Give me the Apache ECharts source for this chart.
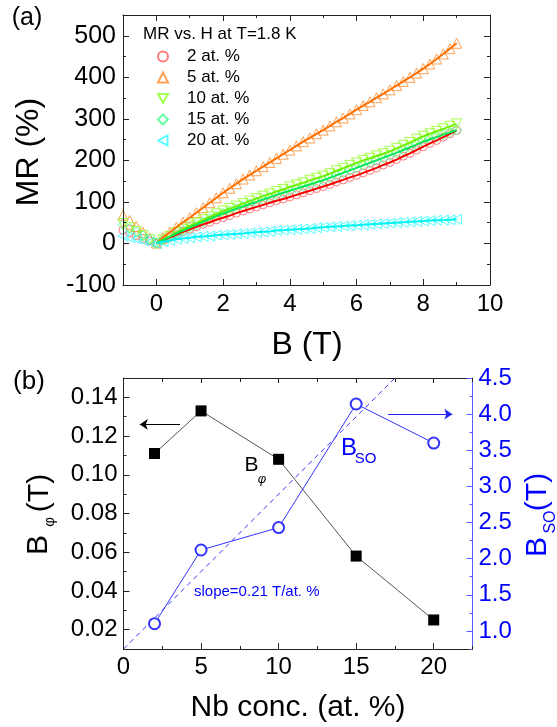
<!DOCTYPE html>
<html><head><meta charset="utf-8">
<script src="https://cdn.jsdelivr.net/npm/echarts@6/dist/echarts.min.js"></script>
<style>html,body{margin:0;padding:0;background:#fff}#c{width:557px;height:727px}</style>
</head><body><div id="c"></div>
<script>
// ---------- Panel (a): MR vs B ----------
const fieldB = [-1.0,-0.8,-0.6,-0.4,-0.2,0.0,0.2,0.4,0.6,0.8,1.0,1.2,1.4,1.6,1.8,2.0,2.2,2.4,2.6,2.8,3.0,3.2,3.4,3.6,3.8,4.0,4.2,4.4,4.6,4.8,5.0,5.2,5.4,5.6,5.8,6.0,6.2,6.4,6.6,6.8,7.0,7.2,7.4,7.6,7.8,8.0,8.2,8.4,8.6,8.8,9.0];
const mr2  = [32,25,19,12,6,0, 7,14,21,28,34, 40,46,51,57,62, 67,73,78,83,88, 93,98,103,107,112, 117,122,127,132,137, 142,148,153,159,164, 170,176,182,189,195, 202,210,217,225,233, 241,248,256,264,272];
const mr5  = [68,55,41,27,13,1, 14,27,39,51,62, 74,86,98,110,122, 133,144,155,165,175, 185,195,205,215,225, 235,245,254,264,273, 283,293,302,312,322, 332,341,351,360,370, 380,390,400,410,421, 432,444,456,469,482];
const mr10 = [48,38,29,19,9,0, 9,17,26,34,42, 49,57,64,71,78, 84,90,96,102,108, 114,119,125,130,136, 141,146,152,157,162, 168,175,181,188,194, 200,205,211,216,222, 229,236,243,251,258, 264,270,276,282,288];
const mr15 = [45,36,27,18,9,0, 8,16,24,31,38, 45,52,59,66,72, 78,84,89,95,100, 106,111,117,122,127, 132,137,142,147,152, 158,164,170,176,182, 188,194,200,206,212, 218,225,231,238,245, 251,256,262,267,273];
const mr20 = [18,14,11,7,3,0, 4,7,10,12,14, 16,17,18,20,21, 22,23,24,26,27, 28,29,31,32,33, 34,35,36,38,39, 40,41,42,43,44, 45,46,47,48,49, 50,51,52,53,54, 55,56,56,57,58];
const seriesNames = ['2 at. %','5 at. %','10 at. %','15 at. %','20 at. %'];
const aTicksXMajor = [0,2,4,6,8,10];
const aTicksXMinor = [-1,1,3,5,7,9];
const aTicksYMajor = [-100,0,100,200,300,400,500];
const aTicksYMinor = [-50,50,150,250,350,450,550];

// ---------- Panel (b): B_phi and B_SO vs Nb ----------
const nbConc = [2,5,10,15,20];
const bPhi = [0.111,0.133,0.108,0.058,0.025];
const bSO  = [1.10,2.12,2.43,4.14,3.60];
const slopeX = [0,17.5];
const slopeY = [0.75,4.5];
const arrowLeft  = [[3.65,0.126],[1.05,0.126]];
const arrowRight = [[17.06,4.0],[21.2,4.0]];
const bTicksXMajor = [0,5,10,15,20];
const bTicksXMinor = [2.5,7.5,12.5,17.5,22.5];
const bTicksYLMajor = [0.02,0.04,0.06,0.08,0.10,0.12,0.14];
const bTicksYLMinor = [0.01,0.03,0.05,0.07,0.09,0.11,0.13,0.15];
const bTicksYRMajor = [1.0,1.5,2.0,2.5,3.0,3.5,4.0,4.5];
const bTicksYRMinor = [0.75,1.25,1.75,2.25,2.75,3.25,3.75,4.25];

const FONT = 'Liberation Sans, Arial, Helvetica, sans-serif';
const BLUE = '#0000ff';

function ax(o) {
  return {
    type: 'value', gridIndex: o.grid, position: o.pos, min: o.min, max: o.max,
    axisLine: {show: o.line !== false, onZero: false, lineStyle: {color: o.lineColor || '#222', width: 1}},
    axisTick: {show: true, inside: true, length: o.len, customValues: o.ticks,
               lineStyle: {color: o.tickColor || '#222', width: 1}},
    axisLabel: o.labels ? {show: true, customValues: o.labels, margin: o.margin, fontSize: o.fs,
               color: o.labelColor || '#000', fontFamily: FONT, formatter: o.fmt} : {show: false},
    splitLine: {show: false}, minorTick: {show: false}, minorSplitLine: {show: false},
    silent: true, z: 5
  };
}

const xAxes = [
  ax({grid:0,pos:'bottom',min:-1,max:10,len:6,ticks:aTicksXMajor,labels:aTicksXMajor,margin:7,fs:24,fmt:v=>String(v)}),
  ax({grid:0,pos:'bottom',min:-1,max:10,len:3,ticks:aTicksXMinor,line:false}),
  ax({grid:0,pos:'top',min:-1,max:10,len:6,ticks:aTicksXMajor}),
  ax({grid:0,pos:'top',min:-1,max:10,len:3,ticks:aTicksXMinor,line:false}),
  ax({grid:1,pos:'bottom',min:0,max:22.5,len:6,ticks:bTicksXMajor,labels:bTicksXMajor,margin:6,fs:24,fmt:v=>String(v)}),
  ax({grid:1,pos:'bottom',min:0,max:22.5,len:3,ticks:bTicksXMinor,line:false}),
  ax({grid:1,pos:'top',min:0,max:22.5,len:5,ticks:bTicksXMajor}),
  ax({grid:1,pos:'top',min:0,max:22.5,len:4,ticks:bTicksXMinor,line:false})
];
const yAxes = [
  ax({grid:0,pos:'left',min:-100,max:550,len:6,ticks:aTicksYMajor,labels:aTicksYMajor,margin:7,fs:25,fmt:v=>String(v)}),
  ax({grid:0,pos:'left',min:-100,max:550,len:3,ticks:aTicksYMinor,line:false}),
  ax({grid:0,pos:'right',min:-100,max:550,len:6,ticks:aTicksYMajor}),
  ax({grid:0,pos:'right',min:-100,max:550,len:3,ticks:aTicksYMinor,line:false}),
  ax({grid:1,pos:'left',min:0.01,max:0.15,len:6,ticks:bTicksYLMajor,labels:bTicksYLMajor,margin:6,fs:24,fmt:v=>v.toFixed(2)}),
  ax({grid:1,pos:'left',min:0.01,max:0.15,len:3,ticks:bTicksYLMinor,line:false}),
  ax({grid:1,pos:'right',min:0.75,max:4.5,len:6,ticks:bTicksYRMajor,labels:bTicksYRMajor,margin:6,fs:24,fmt:v=>v.toFixed(1),
      lineColor:'#5a5aff',tickColor:'#5a5aff',labelColor:BLUE}),
  ax({grid:1,pos:'right',min:0.75,max:4.5,len:3,ticks:bTicksYRMinor,line:false,tickColor:'#5a5aff'})
];

const mrData = [mr2, mr5, mr10, mr15, mr20];
const markerCfg = [
  {symbol:'circle', size:8, rot:0, mc:'#ff5a5a', lc:'#ff0000', icon:'circle'},
  {symbol:'triangle', size:10, rot:0, mc:'#ff8a2a', lc:'#ff7000', icon:'triangle'},
  {symbol:'triangle', size:10, rot:180, mc:'#90ff20', lc:'#70f000', icon:'path://M0,0L10,0L5,9Z'},
  {symbol:'diamond', size:10, rot:0, mc:'#40ff90', lc:'#00e858', icon:'diamond'},
  {symbol:'triangle', size:10, rot:90, mc:'#30ffff', lc:'#00f4f4', icon:'path://M9,0L9,10L0,5Z'}
];

const series = [];
mrData.forEach((arr, k) => {
  const c = markerCfg[k];
  series.push({
    type:'scatter', name: seriesNames[k], xAxisIndex:0, yAxisIndex:0,
    data: fieldB.map((b,i)=>[b, arr[i]]),
    symbol: c.symbol, symbolSize: c.size, symbolRotate: c.rot, symbolKeepAspect: true,
    itemStyle: {color:'rgba(0,0,0,0)', borderColor: c.mc, borderWidth: 1},
    z: 2, silent: true
  });
});
mrData.forEach((arr, k) => {
  const c = markerCfg[k];
  series.push({
    type:'line', xAxisIndex:0, yAxisIndex:0,
    data: fieldB.map((b,i)=>[b, arr[i]]).filter(p => p[0] >= 0),
    symbol:'none', lineStyle:{color: c.lc, width: 2}, z: 3, silent: true
  });
});
series.push({
  type:'line', name:'Bphi', xAxisIndex:4, yAxisIndex:4,
  data: nbConc.map((x,i)=>[x, bPhi[i]]),
  symbol:'rect', symbolSize:11, itemStyle:{color:'#000'},
  lineStyle:{color:'#555', width:1}, z:4, silent:true,
  markLine:{silent:true, symbol:['none','arrow'], symbolSize:8, label:{show:false},
    lineStyle:{color:'#000', width:1, type:'solid'},
    data:[[{coord:arrowLeft[0]},{coord:arrowLeft[1]}]]}
});
series.push({
  type:'line', name:'Bso', xAxisIndex:4, yAxisIndex:6,
  data: nbConc.map((x,i)=>[x, bSO[i]]),
  symbol:'emptyCircle', symbolSize:11, itemStyle:{color:'#3434ff', borderWidth:1},
  lineStyle:{color:'#3434ff', width:1}, z:4, silent:true,
  markLine:{silent:true, symbol:['none','arrow'], symbolSize:8, label:{show:false},
    lineStyle:{color:'#2020ff', width:1, type:'solid'},
    data:[[{coord:arrowRight[0]},{coord:arrowRight[1]}]]}
});
series.push({
  type:'line', name:'slope', xAxisIndex:4, yAxisIndex:6,
  data: slopeX.map((x,i)=>[x, slopeY[i]]),
  symbol:'none', lineStyle:{color:'#3434ff', width:1, type:[5,4]}, z:3, silent:true
});

function txt(t, x, y, fs, opt) {
  opt = opt || {};
  return {type:'text', x:x, y:y, rotation: opt.rot || 0, silent:true, z:10,
    style:{text:t, fontSize:fs, fontFamily:FONT, fontStyle: opt.italic ? 'italic' : 'normal',
      fill: opt.color || '#000', align: opt.align || 'center', verticalAlign:'middle',
      textAlign: opt.align || 'center', textVerticalAlign:'middle'}};
}
const R = Math.PI/2;
const graphics = [
  txt('(a)', 27, 18, 25),
  txt('(b)', 29, 382, 26),
  txt('MR (%)', 29, 152, 32, {rot:R}),
  txt('B (T)', 307, 345, 32),
  txt('Nb conc. (at. %)', 298, 708, 30),
  txt('B', 39, 545, 30, {rot:R}),
  txt('\u03c6', 50, 522, 15, {rot:R}),
  txt('(T)', 40, 493, 30, {rot:R}),
  txt('B', 538, 547, 30, {rot:R, color:BLUE}),
  txt('SO', 551, 522, 16, {rot:R, color:BLUE}),
  txt('(T)', 538, 492, 30, {rot:R, color:BLUE}),
  txt('B', 251.5, 465.5, 21),
  txt('\u03c6', 262, 479, 13, {italic:true}),
  txt('B', 349, 448.5, 24, {color:BLUE}),
  txt('SO', 365.5, 459, 15, {color:BLUE}),
  txt('slope=0.21 T/at. %', 194, 592, 15, {color:BLUE, align:'left'})
];

const legendData = seriesNames.map((n, k) => ({name: n, icon: markerCfg[k].icon}));

const chart = echarts.init(document.getElementById('c'), null, {renderer:'canvas'});
chart.setOption({
  animation:false,
  backgroundColor:'#fff',
  title:{text:'MR vs. H at T=1.8 K', left:143, top:26, padding:0,
    textStyle:{fontSize:17, fontWeight:'normal', fontFamily:FONT, color:'#000'}},
  legend:{data:legendData, orient:'vertical', left:157, top:48, padding:0,
    itemWidth:10, itemHeight:10, itemGap:4, selectedMode:false, symbolKeepAspect:true,
    textStyle:{fontSize:17, fontFamily:FONT, color:'#000', padding:[0,0,0,14]}},
  grid:[
    {left:123, top:15, width:367, height:270, containLabel:false},
    {left:123.5, top:378, width:349, height:271, containLabel:false}
  ],
  xAxis:xAxes, yAxis:yAxes, series:series, graphic:graphics
});
</script></body></html>
